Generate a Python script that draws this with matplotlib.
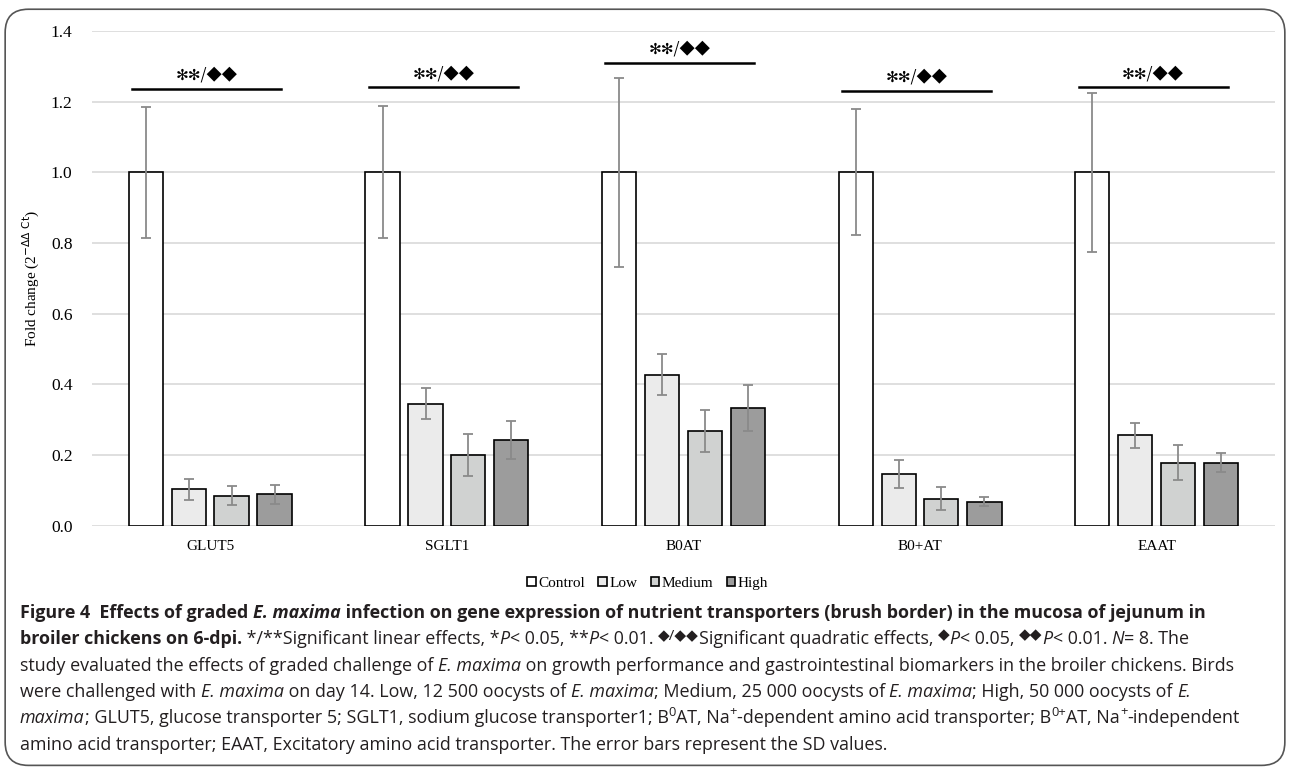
import matplotlib
matplotlib.use("Agg")
import matplotlib.pyplot as plt
from matplotlib.patches import FancyBboxPatch
import numpy as np

genes = ["GLUT5", "SGLT1", "B0AT", "B0+AT", "EAAT"]
groups = ["Control", "Low", "Medium", "High"]
control = [1.0, 1.0, 1.0, 1.0, 1.0]
low = [0.103, 0.346, 0.427, 0.146, 0.256]
medium = [0.085, 0.200, 0.268, 0.077, 0.179]
high = [0.089, 0.243, 0.333, 0.068, 0.179]
control_sd = [0.185, 0.187, 0.267, 0.178, 0.225]
low_sd = [0.030, 0.043, 0.058, 0.040, 0.035]
medium_sd = [0.027, 0.060, 0.060, 0.033, 0.050]
high_sd = [0.027, 0.055, 0.065, 0.013, 0.027]
sig_label = "\u273b\u273b/\u25c6\u25c6"
sig_heights = [1.236, 1.24, 1.31, 1.23, 1.24]

fills = ["#ffffff", "#ebebeb", "#d0d2d1", "#9c9c9c"]
serif = "Liberation Serif"

fig = plt.figure(figsize=(12.9, 7.7), dpi=100)
ax = fig.add_axes([0.0713, 0.317, 0.917, 0.643])

x = np.arange(len(genes))
offsets = [-0.272, -0.09, 0.09, 0.272]
width = 0.145
means = [control, low, medium, high]
sds = [control_sd, low_sd, medium_sd, high_sd]
for i in range(4):
    ax.bar(x + offsets[i], means[i], width, color=fills[i], edgecolor="black",
           linewidth=1.2, label=groups[i], zorder=3)
    ax.errorbar(x + offsets[i], means[i], yerr=sds[i], fmt="none", ecolor="#8a8a8a",
                elinewidth=1.3, capsize=3.5, capthick=1.3, zorder=4)

for xi, h in zip(x, sig_heights):
    ax.plot([xi - 0.33, xi + 0.30], [h, h], color="black", lw=1.8, zorder=5)
    ax.text(xi - 0.015, h + 0.014, sig_label, ha="center", va="bottom", fontsize=11,
            family=["Noto Sans CJK SC", "DejaVu Sans"])

ax.set_xlim(-0.5, 4.5)
ax.set_ylim(0, 1.4)
ax.set_yticks(np.arange(0, 1.41, 0.2))
ax.set_yticklabels([f"{v:.1f}" for v in np.arange(0, 1.41, 0.2)], family=serif, fontsize=12.5)
ax.set_xticks(x)
ax.set_xticklabels(genes, family=serif, fontsize=11)
ax.tick_params(length=0, pad=10)
ax.tick_params(axis="y", pad=14)
ax.grid(axis="y", color="#d9d9d9", lw=1.2, zorder=0)
for s in ax.spines.values():
    s.set_visible(False)
ax.set_ylabel("Fold change (2$^{-\\Delta\\Delta\\ \\mathrm{Ct}}$)", family=serif, fontsize=11,
              labelpad=6)

leg = fig.legend(loc="center", bbox_to_anchor=(0.502, 0.242), ncol=4, frameon=False,
                 prop={"family": serif, "size": 11}, handlelength=0.55, handleheight=0.55,
                 handletextpad=0.15, columnspacing=0.9)

# rounded frame
fig.patches.append(FancyBboxPatch((0.004, 0.006), 0.992, 0.982, boxstyle="round,pad=0,rounding_size=0.018",
                                  transform=fig.transFigure, fill=False, edgecolor="#555555", lw=1.2,
                                  mutation_aspect=1290 / 770))

# caption drawn run by run
renderer = fig.canvas.get_renderer()
cap_font = ["Open Sans", "DejaVu Sans"]
cap_size = 12.9


def draw_line(runs, y):
    xpos = 0.0155
    for text, style in runs:
        kw = dict(fontsize=cap_size, family=cap_font, color="#231f20", va="baseline")
        yy = y
        if "b" in style:
            kw["weight"] = "bold"
        if "i" in style:
            kw["style"] = "italic"
        if "s" in style:
            kw["fontsize"] = cap_size * 0.72
            yy = y + 0.010
        if "d" in style:
            kw["fontsize"] = cap_size * 0.85
            yy = y + 0.007
        t = fig.text(xpos, yy, text, **kw)
        bb = t.get_window_extent(renderer)
        xpos += bb.width / fig.bbox.width


D = "\u25c6"
lines = [
    [("Figure 4  Effects of graded ", "b"), ("E. maxima", "bi"),
     (" infection on gene expression of nutrient transporters (brush border) in the mucosa of jejunum in", "b")],
    [("broiler chickens on 6-dpi.", "b"), (" */**Significant linear effects, *", ""), ("P", "i"),
     ("< 0.05, **", ""), ("P", "i"), ("< 0.01. ", ""), (D + "/" + D + D, "d"),
     ("Significant quadratic effects, ", ""), (D, "d"), ("P", "i"), ("< 0.05, ", ""), (D + D, "d"),
     ("P", "i"), ("< 0.01. ", ""), ("N", "i"), ("= 8. The", "")],
    [("study evaluated the effects of graded challenge of ", ""), ("E. maxima", "i"),
     (" on growth performance and gastrointestinal biomarkers in the broiler chickens. Birds", "")],
    [("were challenged with ", ""), ("E. maxima", "i"), (" on day 14. Low, 12 500 oocysts of ", ""),
     ("E. maxima", "i"), ("; Medium, 25 000 oocysts of ", ""), ("E. maxima", "i"),
     ("; High, 50 000 oocysts of ", ""), ("E.", "i")],
    [("maxima", "i"), ("; GLUT5, glucose transporter 5; SGLT1, sodium glucose transporter1; B", ""),
     ("0", "s"), ("AT, Na", ""), ("+", "s"), ("-dependent amino acid transporter; B", ""), ("0+", "s"),
     ("AT, Na", ""), ("+", "s"), ("-independent", "")],
    [("amino acid transporter; EAAT, Excitatory amino acid transporter. The error bars represent the SD values.", "")],
]
for k, runs in enumerate(lines):
    draw_line(runs, 1 - (618 + 26.3 * k) / 770)

fig.savefig("out.png", dpi=100)
